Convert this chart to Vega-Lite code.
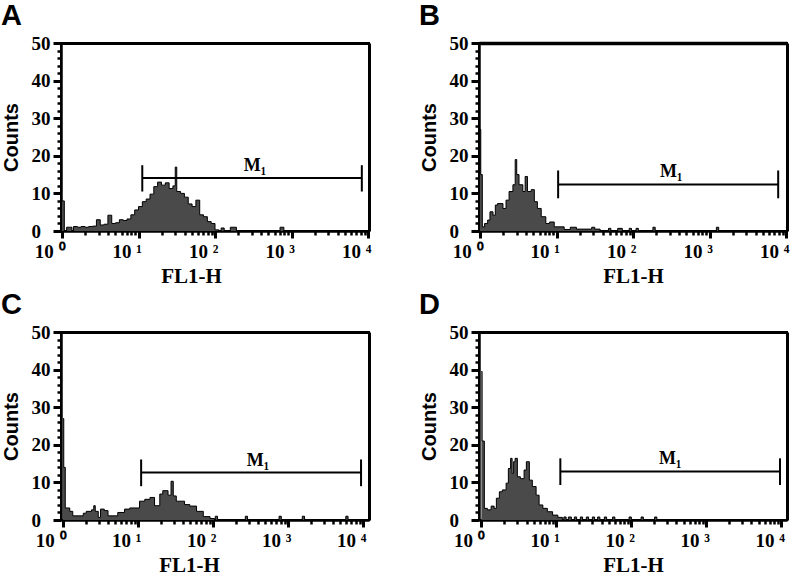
{
  "$schema": "https://vega.github.io/schema/vega-lite/v6.json",
  "background": "white",
  "padding": {"left": 0, "top": 1, "right": 0, "bottom": 0},
  "columns": 2,
  "bounds": "flush",
  "spacing": {"row": 101, "column": 110},
  "config": {
    "view": {"stroke": "black", "strokeWidth": 2},
    "axis": {"grid": false, "ticks": true, "domainColor": "black", "tickColor": "#000000", "tickOpacity": 1, "labelColor": "black", "titleColor": "black", "labelFont": "Liberation Serif", "labelFontWeight": "bold", "labelFontSize": 19, "domainWidth": 2, "tickWidth": 2, "labelOverlap": false, "labelFlush": false, "labelBound": false},
    "axisX": {"titleFont": "Liberation Serif", "titleFontWeight": "bold", "titleFontSize": 21, "titlePadding": 4, "labelAlign": "right", "labelOffset": 3, "labelPadding": 4},
    "axisY": {"titleFont": "Liberation Sans", "titleFontWeight": "bold", "titleFontSize": 20, "labelAlign": "left", "labelPadding": 22, "titlePadding": 10},
    "title": {"font": "Liberation Sans", "fontSize": 29, "fontWeight": "bold", "anchor": "start", "frame": "bounds", "color": "black", "offset": 3}
  },
  "datasets": {
    "hA": [
      {"x": 1, "n": 8}, {"x": 1.072, "n": 0}, {"x": 1.148, "n": 1}, {"x": 1.259, "n": 1}, {"x": 1.349, "n": 0}, {"x": 1.413, "n": 1.2}, {"x": 1.585, "n": 1}, {"x": 1.778, "n": 1.2}, {"x": 1.995, "n": 1}, {"x": 2.239, "n": 1.2}, {"x": 2.512, "n": 1.3}, {"x": 2.818, "n": 3}, {"x": 3.162, "n": 1.6}, {"x": 3.548, "n": 1.8}, {"x": 3.981, "n": 4.2}, {"x": 4.467, "n": 2}, {"x": 5.012, "n": 2.2}, {"x": 5.623, "n": 3}, {"x": 6.31, "n": 2.8}, {"x": 7.079, "n": 3.2}, {"x": 7.943, "n": 4.3}, {"x": 8.913, "n": 5.6}, {"x": 10, "n": 6.5}, {"x": 11.22, "n": 7.8}, {"x": 12.59, "n": 8.5}, {"x": 14.13, "n": 9.8}, {"x": 15.85, "n": 11.8}, {"x": 17.78, "n": 13}, {"x": 19.95, "n": 12.2}, {"x": 22.39, "n": 12.8}, {"x": 25.12, "n": 11.3}, {"x": 28.18, "n": 12}, {"x": 30.2, "n": 17}, {"x": 31.62, "n": 10.5}, {"x": 35.48, "n": 10}, {"x": 39.81, "n": 9}, {"x": 44.67, "n": 7.2}, {"x": 50.12, "n": 6.5}, {"x": 56.23, "n": 8.2}, {"x": 63.1, "n": 4.3}, {"x": 70.79, "n": 3.8}, {"x": 79.43, "n": 2.5}, {"x": 89.13, "n": 2}, {"x": 100, "n": 0.3}, {"x": 112.2, "n": 0}, {"x": 120.2, "n": 0.8}, {"x": 131.8, "n": 0}, {"x": 158.5, "n": 1}, {"x": 190.5, "n": 0}, {"x": 707.9, "n": 1}, {"x": 794.3, "n": 0}, {"x": 10000, "n": 0}
    ],
    "hB": [
      {"x": 1, "n": 27}, {"x": 1.023, "n": 15}, {"x": 1.072, "n": 1.1}, {"x": 1.148, "n": 2}, {"x": 1.259, "n": 2.9}, {"x": 1.349, "n": 5.1}, {"x": 1.479, "n": 4.2}, {"x": 1.585, "n": 6.9}, {"x": 1.698, "n": 7.3}, {"x": 1.995, "n": 6}, {"x": 2.188, "n": 8.2}, {"x": 2.399, "n": 10.5}, {"x": 2.692, "n": 12.3}, {"x": 2.884, "n": 19}, {"x": 3.02, "n": 15}, {"x": 3.236, "n": 12.3}, {"x": 3.631, "n": 10.5}, {"x": 3.89, "n": 14.5}, {"x": 4.169, "n": 10.5}, {"x": 4.677, "n": 11}, {"x": 5.129, "n": 7.8}, {"x": 5.623, "n": 6}, {"x": 6.31, "n": 3.8}, {"x": 7.244, "n": 2}, {"x": 8.128, "n": 2.4}, {"x": 9.333, "n": 1.1}, {"x": 12.59, "n": 0.4}, {"x": 15.14, "n": 1}, {"x": 18.2, "n": 0.5}, {"x": 28.84, "n": 1}, {"x": 31.62, "n": 0.5}, {"x": 37.15, "n": 0}, {"x": 47.86, "n": 0.7}, {"x": 51.29, "n": 0}, {"x": 63.1, "n": 0.7}, {"x": 72.44, "n": 0}, {"x": 89.13, "n": 0.7}, {"x": 95.5, "n": 0}, {"x": 109.6, "n": 0.7}, {"x": 117.5, "n": 0}, {"x": 182, "n": 1}, {"x": 195, "n": 0}, {"x": 1230, "n": 1}, {"x": 1318, "n": 0}, {"x": 10000, "n": 0}
    ],
    "hC": [
      {"x": 1, "n": 27}, {"x": 1.023, "n": 14}, {"x": 1.072, "n": 3.2}, {"x": 1.23, "n": 2.3}, {"x": 1.349, "n": 1.1}, {"x": 1.862, "n": 1.8}, {"x": 2.042, "n": 2.3}, {"x": 2.399, "n": 2.7}, {"x": 2.57, "n": 3.8}, {"x": 2.692, "n": 2.3}, {"x": 2.951, "n": 0.7}, {"x": 3.162, "n": 2.9}, {"x": 3.548, "n": 2.5}, {"x": 3.981, "n": 1.1}, {"x": 5.37, "n": 2}, {"x": 6.607, "n": 2.9}, {"x": 7.762, "n": 3.2}, {"x": 10.47, "n": 5}, {"x": 12.3, "n": 5.5}, {"x": 14.45, "n": 6}, {"x": 16.6, "n": 3.8}, {"x": 19.5, "n": 6.9}, {"x": 21.38, "n": 7.8}, {"x": 25.12, "n": 6.6}, {"x": 27.54, "n": 10.3}, {"x": 29.51, "n": 6.4}, {"x": 32.36, "n": 5}, {"x": 41.69, "n": 4.1}, {"x": 48.98, "n": 3.7}, {"x": 60.26, "n": 2.3}, {"x": 74.13, "n": 0.9}, {"x": 91.2, "n": 0.4}, {"x": 104.7, "n": 0}, {"x": 107.2, "n": 1}, {"x": 114.8, "n": 0}, {"x": 269.2, "n": 1}, {"x": 288.4, "n": 0}, {"x": 758.6, "n": 1}, {"x": 812.8, "n": 0}, {"x": 1549, "n": 1}, {"x": 1660, "n": 0}, {"x": 5888, "n": 1}, {"x": 6310, "n": 0}, {"x": 10000, "n": 0}
    ],
    "hD": [
      {"x": 1, "n": 39.5}, {"x": 1.023, "n": 21}, {"x": 1.096, "n": 3.1}, {"x": 1.202, "n": 2.7}, {"x": 1.349, "n": 3.7}, {"x": 1.479, "n": 3.1}, {"x": 1.585, "n": 5.8}, {"x": 1.738, "n": 7.5}, {"x": 1.905, "n": 8}, {"x": 2.138, "n": 9.8}, {"x": 2.291, "n": 13.7}, {"x": 2.455, "n": 16.4}, {"x": 2.57, "n": 12.4}, {"x": 2.692, "n": 15.5}, {"x": 2.818, "n": 16.4}, {"x": 3.02, "n": 11.5}, {"x": 3.311, "n": 11}, {"x": 3.715, "n": 13.3}, {"x": 3.981, "n": 15.5}, {"x": 4.365, "n": 10.6}, {"x": 4.786, "n": 8.9}, {"x": 5.37, "n": 6.6}, {"x": 5.888, "n": 4}, {"x": 6.607, "n": 3.1}, {"x": 7.586, "n": 2.2}, {"x": 8.913, "n": 1.3}, {"x": 10.47, "n": 0.7}, {"x": 12.02, "n": 0}, {"x": 12.59, "n": 0.8}, {"x": 13.49, "n": 0}, {"x": 14.45, "n": 0.8}, {"x": 15.85, "n": 0}, {"x": 17.38, "n": 0.8}, {"x": 18.62, "n": 0}, {"x": 20.89, "n": 0.8}, {"x": 22.39, "n": 0}, {"x": 25.12, "n": 0.8}, {"x": 26.92, "n": 0}, {"x": 30.2, "n": 0.8}, {"x": 32.36, "n": 0}, {"x": 35.48, "n": 0.8}, {"x": 38.02, "n": 0}, {"x": 43.65, "n": 0.8}, {"x": 46.77, "n": 0}, {"x": 56.23, "n": 0.8}, {"x": 60.26, "n": 0}, {"x": 93.33, "n": 0.8}, {"x": 100, "n": 0}, {"x": 134.9, "n": 0.8}, {"x": 144.5, "n": 0}, {"x": 204.2, "n": 0.8}, {"x": 218.8, "n": 0}, {"x": 10000, "n": 0}
    ],
    "gates": [
      {"p": "A", "x1": 11.2, "x2": 8300, "y": 14.1, "lo": 10.5, "hi": 17.5, "lx": 333, "label": "M₁"},
      {"p": "B", "x1": 10.5, "x2": 7900, "y": 12.4, "lo": 8.7, "hi": 16.1, "lx": 316, "label": "M₁"},
      {"p": "C", "x1": 11, "x2": 9400, "y": 12.6, "lo": 9, "hi": 16.1, "lx": 398, "label": "M₁"},
      {"p": "D", "x1": 11.3, "x2": 9600, "y": 12.9, "lo": 9.3, "hi": 16.4, "lx": 330, "label": "M₁"}
    ]
  },
  "concat": [
    {
      "title": {"text": "A"},
      "width": 308, "height": 188,
      "resolve": {"axis": {"x": "independent", "y": "independent"}},
      "layer": [
        {"data": {"name": "hA"}, "mark": {"type": "area", "interpolate": "step-after", "color": "#4a4a4a"},
         "encoding": {
           "x": {"field": "x", "type": "quantitative", "scale": {"type": "log", "domain": [0.97, 10300], "nice": false},
             "axis": {"orient": "bottom", "title": "FL1-H", "titleX": 130, "values": [1, 10, 100, 1000, 10000], "tickSize": 7, "tickWidth": 3,
               "labelExpr": "datum.value == 1 ? '10 ⁰' : datum.value == 10 ? '10 ¹' : datum.value == 100 ? '10 ²' : datum.value == 1000 ? '10 ³' : '10 ⁴'"}},
           "y": {"field": "n", "type": "quantitative", "scale": {"domain": [0, 50], "nice": false},
             "axis": {"orient": "left", "title": "Counts", "values": [0, 10, 20, 30, 40, 50], "tickSize": 8, "tickWidth": 3}}
         }},
        {"data": {"name": "hA"}, "mark": {"type": "line", "interpolate": "step-after", "color": "black", "strokeWidth": 1},
         "encoding": {
           "x": {"field": "x", "type": "quantitative", "axis": {"orient": "bottom", "title": null, "labels": false, "tickSize": 4, "tickWidth": 2.5, "values": [2,3,4,5,6,7,8,9,20,30,40,50,60,70,80,90,200,300,400,500,600,700,800,900,2000,3000,4000,5000,6000,7000,8000,9000]}},
           "y": {"field": "n", "type": "quantitative", "axis": {"orient": "left", "title": null, "labels": false, "tickSize": 4, "tickWidth": 2.5, "values": [2,4,6,8,12,14,16,18,22,24,26,28,32,34,36,38,42,44,46,48]}}
         }},
        {"data": {"name": "gates"}, "transform": [{"filter": "datum.p == 'A'"}],
         "layer": [
           {"mark": {"type": "rule", "color": "black", "strokeWidth": 2}, "encoding": {"x": {"field": "x1", "type": "quantitative", "axis": {"orient": "top", "title": null, "labels": false, "ticks": false, "domainWidth": 3}}, "x2": {"field": "x2"}, "y": {"field": "y", "type": "quantitative", "axis": {"orient": "right", "title": null, "labels": false, "ticks": false, "domainWidth": 3}}}},
           {"mark": {"type": "rule", "color": "black", "strokeWidth": 2}, "encoding": {"x": {"field": "x1", "type": "quantitative"}, "y": {"field": "lo", "type": "quantitative"}, "y2": {"field": "hi"}}},
           {"mark": {"type": "rule", "color": "black", "strokeWidth": 2}, "encoding": {"x": {"field": "x2", "type": "quantitative"}, "y": {"field": "lo", "type": "quantitative"}, "y2": {"field": "hi"}}},
           {"mark": {"type": "text", "font": "Liberation Serif", "fontWeight": "bold", "fontSize": 18, "color": "black", "baseline": "alphabetic", "dy": -7}, "encoding": {"x": {"field": "lx", "type": "quantitative"}, "y": {"field": "y", "type": "quantitative"}, "text": {"field": "label"}}}
         ]}
      ]
    },
    {
      "title": {"text": "B"},
      "width": 308, "height": 188,
      "resolve": {"axis": {"x": "independent", "y": "independent"}},
      "layer": [
        {"data": {"name": "hB"}, "mark": {"type": "area", "interpolate": "step-after", "color": "#4a4a4a"},
         "encoding": {
           "x": {"field": "x", "type": "quantitative", "scale": {"type": "log", "domain": [0.97, 10300], "nice": false},
             "axis": {"orient": "bottom", "title": "FL1-H", "values": [1, 10, 100, 1000, 10000], "tickSize": 7, "tickWidth": 3,
               "labelExpr": "datum.value == 1 ? '10 ⁰' : datum.value == 10 ? '10 ¹' : datum.value == 100 ? '10 ²' : datum.value == 1000 ? '10 ³' : '10 ⁴'"}},
           "y": {"field": "n", "type": "quantitative", "scale": {"domain": [0, 50], "nice": false},
             "axis": {"orient": "left", "title": "Counts", "values": [0, 10, 20, 30, 40, 50], "tickSize": 8, "tickWidth": 3}}
         }},
        {"data": {"name": "hB"}, "mark": {"type": "line", "interpolate": "step-after", "color": "black", "strokeWidth": 1},
         "encoding": {
           "x": {"field": "x", "type": "quantitative", "axis": {"orient": "bottom", "title": null, "labels": false, "tickSize": 4, "tickWidth": 2.5, "values": [2,3,4,5,6,7,8,9,20,30,40,50,60,70,80,90,200,300,400,500,600,700,800,900,2000,3000,4000,5000,6000,7000,8000,9000]}},
           "y": {"field": "n", "type": "quantitative", "axis": {"orient": "left", "title": null, "labels": false, "tickSize": 4, "tickWidth": 2.5, "values": [2,4,6,8,12,14,16,18,22,24,26,28,32,34,36,38,42,44,46,48]}}
         }},
        {"data": {"name": "gates"}, "transform": [{"filter": "datum.p == 'B'"}],
         "layer": [
           {"mark": {"type": "rule", "color": "black", "strokeWidth": 2}, "encoding": {"x": {"field": "x1", "type": "quantitative", "axis": {"orient": "top", "title": null, "labels": false, "ticks": false, "domainWidth": 3.5}}, "x2": {"field": "x2"}, "y": {"field": "y", "type": "quantitative", "axis": {"orient": "right", "title": null, "labels": false, "ticks": false, "domainWidth": 3}}}},
           {"mark": {"type": "rule", "color": "black", "strokeWidth": 2}, "encoding": {"x": {"field": "x1", "type": "quantitative"}, "y": {"field": "lo", "type": "quantitative"}, "y2": {"field": "hi"}}},
           {"mark": {"type": "rule", "color": "black", "strokeWidth": 2}, "encoding": {"x": {"field": "x2", "type": "quantitative"}, "y": {"field": "lo", "type": "quantitative"}, "y2": {"field": "hi"}}},
           {"mark": {"type": "text", "font": "Liberation Serif", "fontWeight": "bold", "fontSize": 18, "color": "black", "baseline": "alphabetic", "dy": -7}, "encoding": {"x": {"field": "lx", "type": "quantitative"}, "y": {"field": "y", "type": "quantitative"}, "text": {"field": "label"}}}
         ]}
      ]
    },
    {
      "title": {"text": "C"},
      "width": 308, "height": 188,
      "resolve": {"axis": {"x": "independent", "y": "independent"}},
      "layer": [
        {"data": {"name": "hC"}, "mark": {"type": "area", "interpolate": "step-after", "color": "#4a4a4a"},
         "encoding": {
           "x": {"field": "x", "type": "quantitative", "scale": {"type": "log", "domain": [0.94, 12000], "nice": false},
             "axis": {"orient": "bottom", "title": "FL1-H", "titleX": 128, "values": [1, 10, 100, 1000, 10000], "tickSize": 7, "tickWidth": 3,
               "labelExpr": "datum.value == 1 ? '10 ⁰' : datum.value == 10 ? '10 ¹' : datum.value == 100 ? '10 ²' : datum.value == 1000 ? '10 ³' : '10 ⁴'"}},
           "y": {"field": "n", "type": "quantitative", "scale": {"domain": [0, 50], "nice": false},
             "axis": {"orient": "left", "title": "Counts", "values": [0, 10, 20, 30, 40, 50], "tickSize": 8, "tickWidth": 3}}
         }},
        {"data": {"name": "hC"}, "mark": {"type": "line", "interpolate": "step-after", "color": "black", "strokeWidth": 1},
         "encoding": {
           "x": {"field": "x", "type": "quantitative", "axis": {"orient": "bottom", "title": null, "labels": false, "tickSize": 4, "tickWidth": 2.5, "values": [2,3,4,5,6,7,8,9,20,30,40,50,60,70,80,90,200,300,400,500,600,700,800,900,2000,3000,4000,5000,6000,7000,8000,9000]}},
           "y": {"field": "n", "type": "quantitative", "axis": {"orient": "left", "title": null, "labels": false, "tickSize": 4, "tickWidth": 2.5, "values": [2,4,6,8,12,14,16,18,22,24,26,28,32,34,36,38,42,44,46,48]}}
         }},
        {"data": {"name": "gates"}, "transform": [{"filter": "datum.p == 'C'"}],
         "layer": [
           {"mark": {"type": "rule", "color": "black", "strokeWidth": 2}, "encoding": {"x": {"field": "x1", "type": "quantitative", "axis": {"orient": "top", "title": null, "labels": false, "ticks": false, "domainWidth": 3}}, "x2": {"field": "x2"}, "y": {"field": "y", "type": "quantitative", "axis": {"orient": "right", "title": null, "labels": false, "ticks": false, "domainWidth": 3}}}},
           {"mark": {"type": "rule", "color": "black", "strokeWidth": 2}, "encoding": {"x": {"field": "x1", "type": "quantitative"}, "y": {"field": "lo", "type": "quantitative"}, "y2": {"field": "hi"}}},
           {"mark": {"type": "rule", "color": "black", "strokeWidth": 2}, "encoding": {"x": {"field": "x2", "type": "quantitative"}, "y": {"field": "lo", "type": "quantitative"}, "y2": {"field": "hi"}}},
           {"mark": {"type": "text", "font": "Liberation Serif", "fontWeight": "bold", "fontSize": 18, "color": "black", "baseline": "alphabetic", "dy": -7}, "encoding": {"x": {"field": "lx", "type": "quantitative"}, "y": {"field": "y", "type": "quantitative"}, "text": {"field": "label"}}}
         ]}
      ]
    },
    {
      "title": {"text": "D"},
      "width": 308, "height": 188,
      "resolve": {"axis": {"x": "independent", "y": "independent"}},
      "layer": [
        {"data": {"name": "hD"}, "mark": {"type": "area", "interpolate": "step-after", "color": "#4a4a4a"},
         "encoding": {
           "x": {"field": "x", "type": "quantitative", "scale": {"type": "log", "domain": [0.93, 11900], "nice": false},
             "axis": {"orient": "bottom", "title": "FL1-H", "values": [1, 10, 100, 1000, 10000], "tickSize": 7, "tickWidth": 3,
               "labelExpr": "datum.value == 1 ? '10 ⁰' : datum.value == 10 ? '10 ¹' : datum.value == 100 ? '10 ²' : datum.value == 1000 ? '10 ³' : '10 ⁴'"}},
           "y": {"field": "n", "type": "quantitative", "scale": {"domain": [0, 50], "nice": false},
             "axis": {"orient": "left", "title": "Counts", "values": [0, 10, 20, 30, 40, 50], "tickSize": 8, "tickWidth": 3}}
         }},
        {"data": {"name": "hD"}, "mark": {"type": "line", "interpolate": "step-after", "color": "black", "strokeWidth": 1},
         "encoding": {
           "x": {"field": "x", "type": "quantitative", "axis": {"orient": "bottom", "title": null, "labels": false, "tickSize": 4, "tickWidth": 2.5, "values": [2,3,4,5,6,7,8,9,20,30,40,50,60,70,80,90,200,300,400,500,600,700,800,900,2000,3000,4000,5000,6000,7000,8000,9000]}},
           "y": {"field": "n", "type": "quantitative", "axis": {"orient": "left", "title": null, "labels": false, "tickSize": 4, "tickWidth": 2.5, "values": [2,4,6,8,12,14,16,18,22,24,26,28,32,34,36,38,42,44,46,48]}}
         }},
        {"data": {"name": "gates"}, "transform": [{"filter": "datum.p == 'D'"}],
         "layer": [
           {"mark": {"type": "rule", "color": "black", "strokeWidth": 2}, "encoding": {"x": {"field": "x1", "type": "quantitative", "axis": {"orient": "top", "title": null, "labels": false, "ticks": false, "domainWidth": 3}}, "x2": {"field": "x2"}, "y": {"field": "y", "type": "quantitative", "axis": {"orient": "right", "title": null, "labels": false, "ticks": false, "domainWidth": 3}}}},
           {"mark": {"type": "rule", "color": "black", "strokeWidth": 2}, "encoding": {"x": {"field": "x1", "type": "quantitative"}, "y": {"field": "lo", "type": "quantitative"}, "y2": {"field": "hi"}}},
           {"mark": {"type": "rule", "color": "black", "strokeWidth": 2}, "encoding": {"x": {"field": "x2", "type": "quantitative"}, "y": {"field": "lo", "type": "quantitative"}, "y2": {"field": "hi"}}},
           {"mark": {"type": "text", "font": "Liberation Serif", "fontWeight": "bold", "fontSize": 18, "color": "black", "baseline": "alphabetic", "dy": -7}, "encoding": {"x": {"field": "lx", "type": "quantitative"}, "y": {"field": "y", "type": "quantitative"}, "text": {"field": "label"}}}
         ]}
      ]
    }
  ]
}
